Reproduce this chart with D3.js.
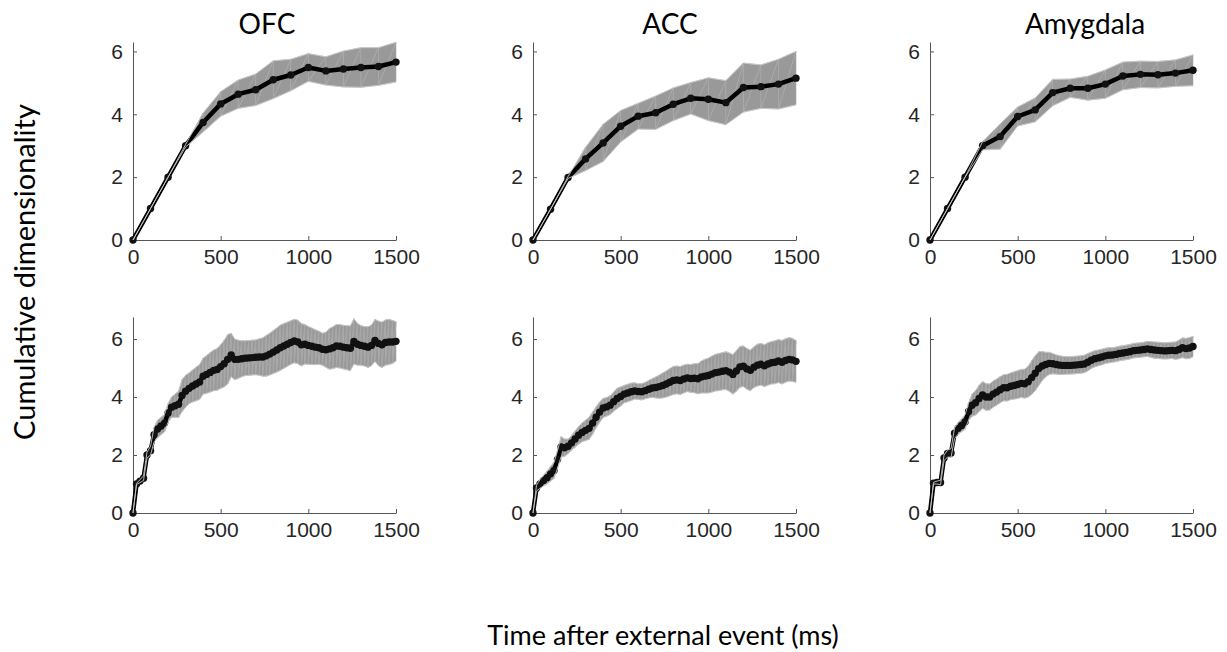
<!DOCTYPE html>
<html>
<head>
<meta charset="utf-8">
<script src="https://cdnjs.cloudflare.com/ajax/libs/d3/7.8.5/d3.min.js"></script>
<style>
  body { margin: 0; background: #fff; }
  .tick text { font-family: "Liberation Sans", Arial, sans-serif; font-size: 21px; fill: #262626; }
  .label { font-family: Lato, "Open Sans", sans-serif; fill: #000; }
</style>
</head>
<body>
<div id="chart"></div>
<script>
// time grids (ms)
var TIMES_TOP = [0, 100, 200, 300, 400, 500, 600, 700, 800, 900, 1000, 1100, 1200, 1300, 1400, 1500];
var TIMES_BOTTOM = [0, 20, 40, 60, 80, 100, 120, 140, 160, 180, 200, 220, 240, 260, 280, 300, 320, 340, 360, 380,
  400, 420, 440, 460, 480, 500, 520, 540, 560, 580, 600, 620, 640, 660, 680, 700, 720, 740, 760, 780,
  800, 820, 840, 860, 880, 900, 920, 940, 960, 980, 1000, 1020, 1040, 1060, 1080, 1100, 1120, 1140, 1160, 1180,
  1200, 1220, 1240, 1260, 1280, 1300, 1320, 1340, 1360, 1380, 1400, 1420, 1440, 1460, 1480, 1500];

var REGIONS = ['OFC', 'ACC', 'Amygdala'];
var X_TICKS = [0, 500, 1000, 1500];
var Y_TICKS = [0, 2, 4, 6];

// top row: mean and half width of the shaded band
var OFC_TOP_MEAN = [0, 1.0, 2.0, 3.0, 3.74, 4.33, 4.64, 4.78, 5.1, 5.25, 5.49, 5.38, 5.44, 5.49, 5.52, 5.66];
var OFC_TOP_ERR = [0, 0, 0, 0.04, 0.3, 0.39, 0.45, 0.5, 0.6, 0.5, 0.44, 0.45, 0.57, 0.63, 0.6, 0.63];
var ACC_TOP_MEAN = [0, 0.98, 1.99, 2.58, 3.09, 3.62, 3.94, 4.05, 4.32, 4.51, 4.48, 4.37, 4.85, 4.88, 4.96, 5.15];
var ACC_TOP_ERR = [0, 0, 0.03, 0.37, 0.59, 0.5, 0.41, 0.53, 0.52, 0.5, 0.68, 0.7, 0.78, 0.69, 0.79, 0.85];
var AMY_TOP_MEAN = [0, 1.0, 2.0, 3.0, 3.29, 3.93, 4.14, 4.69, 4.83, 4.83, 4.96, 5.22, 5.27, 5.26, 5.31, 5.4];
var AMY_TOP_ERR = [0, 0, 0, 0.13, 0.4, 0.3, 0.38, 0.42, 0.29, 0.38, 0.45, 0.44, 0.42, 0.42, 0.42, 0.49];

// bottom row
var OFC_BOT_MEAN = [0, 1.0, 1.1, 1.2, 2.0, 2.15, 2.7, 2.9, 3.0, 3.1,
  3.45, 3.65, 3.7, 3.75, 4.05, 4.2, 4.3, 4.38, 4.45, 4.52,
  4.72, 4.78, 4.85, 4.92, 4.95, 5.05, 5.15, 5.3, 5.45, 5.3,
  5.3, 5.32, 5.34, 5.35, 5.36, 5.37, 5.38, 5.38, 5.42, 5.48,
  5.55, 5.62, 5.7, 5.76, 5.82, 5.88, 5.93, 5.9, 5.8, 5.82,
  5.78, 5.75, 5.72, 5.7, 5.65, 5.63, 5.66, 5.7, 5.76, 5.75,
  5.72, 5.7, 5.68, 5.92, 5.82, 5.78, 5.75, 5.72, 5.78, 5.95,
  5.85, 5.8, 5.88, 5.9, 5.9, 5.92];
var OFC_BOT_ERR = [0, 0.02, 0.05, 0.08, 0.1, 0.15, 0.25, 0.3, 0.3, 0.3,
  0.32, 0.35, 0.4, 0.45, 0.55, 0.55, 0.53, 0.55, 0.58, 0.6,
  0.62, 0.65, 0.68, 0.7, 0.72, 0.75, 0.8, 0.85, 0.75, 0.7,
  0.66, 0.62, 0.6, 0.6, 0.6, 0.6, 0.63, 0.66, 0.7, 0.72,
  0.74, 0.76, 0.78, 0.77, 0.76, 0.75, 0.75, 0.75, 0.73, 0.68,
  0.65, 0.63, 0.6, 0.57, 0.55, 0.6, 0.7, 0.72, 0.74, 0.75,
  0.75, 0.76, 0.77, 0.78, 0.72, 0.68, 0.68, 0.7, 0.7, 0.72,
  0.77, 0.78, 0.78, 0.78, 0.74, 0.68];
var ACC_BOT_MEAN = [0, 0.86, 1.0, 1.12, 1.22, 1.35, 1.47, 1.85, 2.28, 2.25,
  2.3, 2.42, 2.55, 2.68, 2.78, 2.85, 2.92, 3.1, 3.3, 3.48,
  3.62, 3.66, 3.72, 3.84, 3.95, 4.02, 4.1, 4.14, 4.18, 4.21,
  4.19, 4.18, 4.22, 4.27, 4.31, 4.33, 4.36, 4.4, 4.45, 4.51,
  4.57, 4.59, 4.57, 4.62, 4.66, 4.64, 4.65, 4.63, 4.69, 4.72,
  4.74, 4.79, 4.84, 4.86, 4.89, 4.91, 4.86, 4.78, 4.9, 5.04,
  5.06, 4.97, 4.92, 5.03, 5.1, 5.13, 5.08, 5.14, 5.18, 5.2,
  5.24, 5.2, 5.26, 5.3, 5.28, 5.23];
var ACC_BOT_ERR = [0, 0.1, 0.15, 0.18, 0.22, 0.25, 0.28, 0.3, 0.35, 0.3,
  0.25, 0.25, 0.28, 0.3, 0.32, 0.35, 0.38, 0.38, 0.36, 0.35,
  0.33, 0.32, 0.32, 0.33, 0.35, 0.33, 0.3, 0.3, 0.3, 0.28,
  0.27, 0.28, 0.28, 0.3, 0.32, 0.36, 0.4, 0.43, 0.45, 0.47,
  0.48, 0.48, 0.48, 0.48, 0.47, 0.48, 0.5, 0.52, 0.55, 0.58,
  0.6, 0.62, 0.63, 0.64, 0.64, 0.65, 0.66, 0.68, 0.7, 0.7,
  0.7, 0.7, 0.7, 0.7, 0.72, 0.72, 0.72, 0.73, 0.73, 0.74,
  0.74, 0.75, 0.75, 0.75, 0.74, 0.72];
var AMY_BOT_MEAN = [0, 1.03, 1.05, 1.05, 1.9, 2.05, 2.07, 2.75, 2.92, 3.02,
  3.14, 3.5, 3.72, 3.8, 3.95, 4.07, 4.0, 4.0, 4.1, 4.17,
  4.25, 4.32, 4.32, 4.37, 4.4, 4.43, 4.47, 4.46, 4.53, 4.67,
  4.82, 4.98, 5.07, 5.12, 5.16, 5.15, 5.12, 5.1, 5.09, 5.09,
  5.09, 5.1, 5.11, 5.12, 5.14, 5.2, 5.27, 5.32, 5.35, 5.38,
  5.42, 5.44, 5.45, 5.47, 5.5, 5.52, 5.54, 5.56, 5.6, 5.61,
  5.62, 5.64, 5.66, 5.64, 5.62, 5.61, 5.6, 5.59, 5.6, 5.61,
  5.6, 5.64, 5.7, 5.67, 5.69, 5.74];
var AMY_BOT_ERR = [0, 0.03, 0.05, 0.08, 0.1, 0.12, 0.15, 0.18, 0.2, 0.22,
  0.25, 0.3, 0.38, 0.42, 0.45, 0.46, 0.46, 0.45, 0.45, 0.45,
  0.45, 0.45, 0.46, 0.46, 0.47, 0.48, 0.48, 0.5, 0.53, 0.58,
  0.6, 0.58, 0.5, 0.42, 0.38, 0.35, 0.33, 0.32, 0.31, 0.3,
  0.3, 0.3, 0.3, 0.3, 0.3, 0.3, 0.28, 0.28, 0.27, 0.27,
  0.26, 0.26, 0.25, 0.25, 0.25, 0.25, 0.25, 0.25, 0.25, 0.25,
  0.25, 0.25, 0.26, 0.27, 0.28, 0.28, 0.28, 0.28, 0.28, 0.28,
  0.3, 0.32, 0.34, 0.35, 0.36, 0.35];

// layout
var COL_X = [133, 533, 930];
var PANEL_W = 263;
var ROW_TOP = [42, 317];
var ROW_ZERO = [240, 513];
var ROW_YMAX = [6.3, 6.76];
var TITLE_X = [267, 670, 1085];

var panels = [
  {row: 0, col: 0, t: TIMES_TOP, mean: OFC_TOP_MEAN, err: OFC_TOP_ERR},
  {row: 0, col: 1, t: TIMES_TOP, mean: ACC_TOP_MEAN, err: ACC_TOP_ERR},
  {row: 0, col: 2, t: TIMES_TOP, mean: AMY_TOP_MEAN, err: AMY_TOP_ERR},
  {row: 1, col: 0, t: TIMES_BOTTOM, mean: OFC_BOT_MEAN, err: OFC_BOT_ERR},
  {row: 1, col: 1, t: TIMES_BOTTOM, mean: ACC_BOT_MEAN, err: ACC_BOT_ERR},
  {row: 1, col: 2, t: TIMES_BOTTOM, mean: AMY_BOT_MEAN, err: AMY_BOT_ERR}
];

var svg = d3.select('#chart')
  .append('svg')
    .attr('width', 1227)
    .attr('height', 652);

function plot(p) {
  var height = ROW_ZERO[p.row] - ROW_TOP[p.row];
  var x = d3.scaleLinear().domain([0, 1500]).range([0, PANEL_W]);
  var y = d3.scaleLinear().domain([0, ROW_YMAX[p.row]]).range([height, 0]);

  var g = svg.append('g')
    .attr('transform', 'translate(' + COL_X[p.col] + ',' + ROW_TOP[p.row] + ')');

  var data = p.t.map(function(t, i) {
    return {t: t, m: p.mean[i], lo: p.mean[i] - p.err[i], hi: p.mean[i] + p.err[i]};
  });

  // axes
  var xAxis = g.append('g')
    .attr('transform', 'translate(0,' + height + ')')
    .call(d3.axisBottom(x).tickValues(X_TICKS).tickFormat(d3.format('d'))
      .tickSizeInner(-4).tickSizeOuter(0).tickPadding(9));
  var yAxis = g.append('g')
    .call(d3.axisLeft(y).tickValues(Y_TICKS).tickFormat(d3.format('d'))
      .tickSizeInner(-4).tickSizeOuter(0).tickPadding(10));
  [xAxis, yAxis].forEach(function(a) {
    a.select('.domain').attr('stroke', '#555');
    a.selectAll('.tick line').attr('stroke', '#555');
  });

  // shaded band, drawn as triangles so the seams show like the original
  var tris = [];
  for (var i = 0; i < data.length - 1; i++) {
    var a = data[i], b = data[i + 1];
    tris.push([[a.t, a.hi], [a.t, a.lo], [b.t, b.hi]]);
    tris.push([[a.t, a.lo], [b.t, b.hi], [b.t, b.lo]]);
  }
  g.append('g').selectAll('path')
    .data(tris)
    .enter().append('path')
      .attr('d', function(d) {
        return 'M' + d.map(function(q) { return x(q[0]) + ',' + y(q[1]); }).join('L') + 'Z';
      })
      .attr('fill', '#999')
      .attr('stroke', '#a9a9a9')
      .attr('stroke-width', 0.6);

  // mean line + markers
  var line = d3.line()
    .x(function(d) { return x(d.t); })
    .y(function(d) { return y(d.m); });

  g.append('path')
    .datum(data)
    .attr('d', line)
    .attr('fill', 'none')
    .attr('stroke', '#000')
    .attr('stroke-width', 4.5)
    .attr('stroke-linejoin', 'round');

  g.append('g').selectAll('circle')
    .data(data)
    .enter().append('circle')
      .attr('cx', function(d) { return x(d.t); })
      .attr('cy', function(d) { return y(d.m); })
      .attr('r', 3.7)
      .attr('fill', '#111');

  // band edges
  ['hi', 'lo'].forEach(function(k) {
    g.append('path')
      .datum(data)
      .attr('d', d3.line()
        .x(function(d) { return x(d.t); })
        .y(function(d) { return y(d[k]); }))
      .attr('fill', 'none')
      .attr('stroke', '#c8c8c8')
      .attr('stroke-width', 0.9);
  });
}

panels.forEach(plot);

// titles
svg.selectAll('.title')
  .data(REGIONS)
  .enter().append('text')
    .attr('class', 'label title')
    .attr('x', function(d, i) { return TITLE_X[i]; })
    .attr('y', 34)
    .style('text-anchor', 'middle')
    .style('font-size', '28px')
    .text(function(d) { return d; });

// axis labels
svg.append('text')
  .attr('class', 'label')
  .attr('transform', 'translate(663,645)')
  .style('text-anchor', 'middle')
  .style('font-size', '27px')
  .text('Time after external event (ms)');

svg.append('text')
  .attr('class', 'label')
  .attr('transform', 'translate(35,272) rotate(-90)')
  .style('text-anchor', 'middle')
  .style('font-size', '29px')
  .text('Cumulative dimensionality');
</script>
</body>
</html>
